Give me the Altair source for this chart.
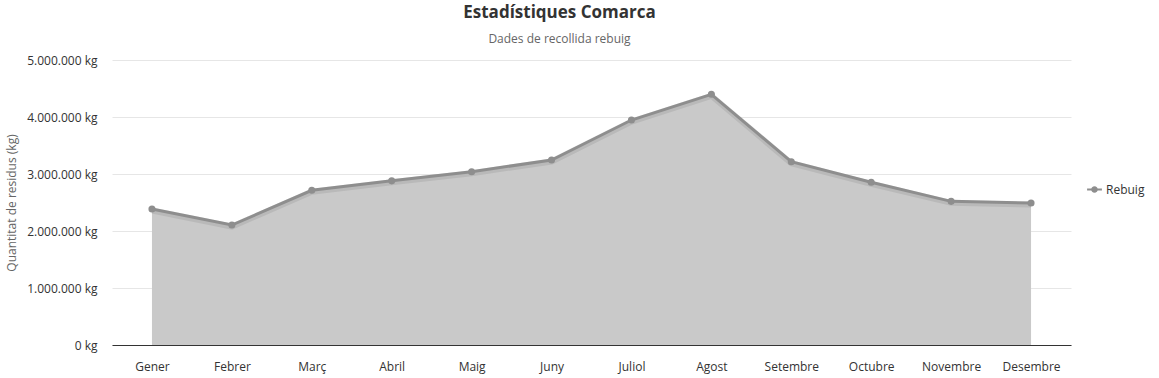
import altair as alt
import pandas as pd

months = ["Gener", "Febrer", "Març", "Abril", "Maig", "Juny", "Juliol",
          "Agost", "Setembre", "Octubre", "Novembre", "Desembre"]
rebuig = [2386000, 2105000, 2714000, 2880000, 3040000, 3246000, 3947000,
          4398000, 3216000, 2854000, 2520000, 2490000]
serie_name = "Rebuig"

df = pd.DataFrame({"mes": months, "kg": rebuig, "serie": serie_name})

FONT = "Open Sans"
LINE = "#8e8e8e"
FILL = "#c9c9c9"

x = alt.X("mes:N", sort=months, scale=alt.Scale(type="point", padding=0.5),
          axis=alt.Axis(title=None, labelAngle=0, ticks=False, grid=False,
                        domainColor="#333333", labelPadding=16,
                        labelFontSize=12, labelColor="#333333", labelFont=FONT))
y = alt.Y("kg:Q", scale=alt.Scale(domain=[0, 5000000], nice=False),
          axis=alt.Axis(title="Quantitat de residus (kg)", values=[0, 1000000, 2000000, 3000000, 4000000, 5000000],
                        labelExpr="replace(format(datum.value, ','), /,/g, '.') + ' kg'",
                        domain=False, ticks=False, labelPadding=15,
                        gridColor="#e6e6e6", labelFontSize=12, labelColor="#333333",
                        labelFont=FONT, titleFont=FONT, titleFontSize=12,
                        titleFontWeight="normal", titleColor="#666666", titlePadding=8))

base = alt.Chart(df)

area = base.mark_area(color=FILL, opacity=1).encode(x=x, y=y)
shadow = base.mark_line(color="#000000", opacity=0.08, strokeWidth=6, yOffset=1.5).encode(x=x, y=y)
line = base.mark_line(strokeWidth=3).encode(
    x=x, y=y,
    color=alt.Color("serie:N", scale=alt.Scale(range=[LINE]),
                    legend=alt.Legend(title=None, orient="none", legendX=975, legendY=122,
                                      symbolType="M-1,-0.12L1,-0.12L1,0.12L-1,0.12Z M-0.45,0 A0.45,0.45 0 1,1 0.45,0 A0.45,0.45 0 1,1 -0.45,0Z",
                                      symbolSize=220, symbolStrokeWidth=0,
                                      symbolFillColor=LINE, symbolOpacity=1,
                                      labelFont=FONT, labelFontSize=12, labelColor="#333333")))
pts = base.mark_circle(size=50, color=LINE, opacity=1).encode(x=x, y=y)

chart = alt.layer(area, shadow, line, pts).properties(
    width=959, height=285,
    autosize=alt.AutoSizeParams(type="none"),
    padding={"left": 112, "top": 60, "right": 88, "bottom": 33},
    title=alt.TitleParams("Estadístiques Comarca", subtitle="Dades de recollida rebuig",
                          anchor="middle", dx=-32, offset=8, font=FONT, fontSize=17,
                          fontWeight="bold", color="#333333", subtitleFont=FONT,
                          subtitleFontSize=12, subtitleColor="#666666", subtitlePadding=12)
).configure_view(stroke=None)

chart.save("out.html", embed_options={"renderer": "svg", "actions": False})
